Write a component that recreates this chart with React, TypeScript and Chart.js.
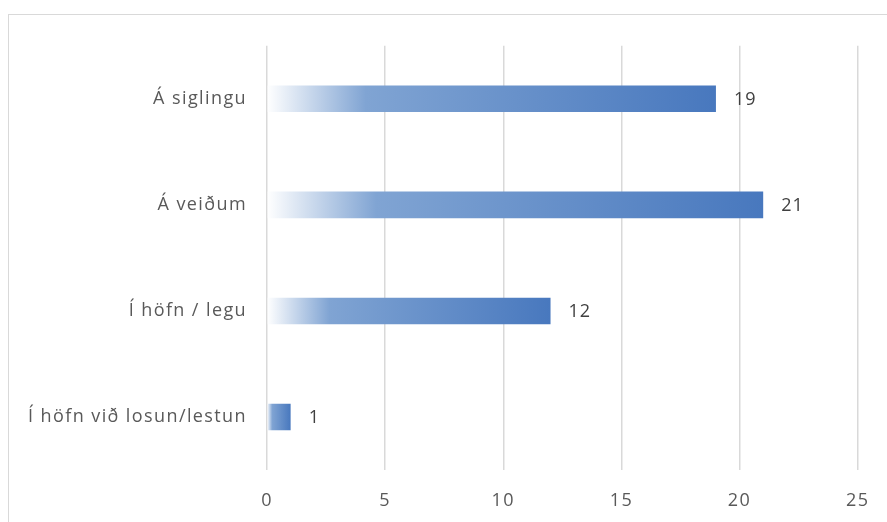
import React, { useEffect, useRef } from "react";
import { Chart, registerables } from "chart.js";

Chart.register(...registerables);

const categories = ["Á siglingu", "Á veiðum", "Í höfn / legu", "Í höfn við losun/lestun"];
const values = [19, 21, 12, 1];
const xTicks = [0, 5, 10, 15, 20, 25];

const FONT = "'Open Sans', 'DejaVu Sans', sans-serif";

export default function App() {
  const ref = useRef<HTMLCanvasElement | null>(null);

  useEffect(() => {
    if (!ref.current) return;
    const spacing = {
      id: "spacing",
      beforeDraw(chart: any) {
        (chart.ctx as any).letterSpacing = "1.4px";
      },
      afterDraw(chart: any) {
        (chart.ctx as any).letterSpacing = "0px";
      },
    };
    const valueLabels = {
      id: "valueLabels",
      afterDatasetsDraw(chart: any) {
        const c = chart.ctx;
        const meta = chart.getDatasetMeta(0);
        c.save();
        (c as any).letterSpacing = "1px";
        c.font = `18px ${FONT}`;
        c.fillStyle = "#404040";
        c.textAlign = "left";
        c.textBaseline = "middle";
        meta.data.forEach((bar: any, i: number) => {
          c.fillText(String(values[i]), bar.x + 18, bar.y + 1);
        });
        c.restore();
      },
    };
    const chart = new Chart(ref.current, {
      type: "bar",
      data: {
        labels: categories,
        datasets: [
          {
            data: values,
            backgroundColor: (ctx: any) => {
              const ch = ctx.chart;
              if (!ch.chartArea || ctx.raw === undefined) return "#4878be";
              const xs = ch.scales.x;
              const x0 = xs.getPixelForValue(0);
              const x1 = xs.getPixelForValue(ctx.raw as number);
              if (x1 - x0 < 1) return "#4878be";
              const g = ch.ctx.createLinearGradient(x0, 0, x1, 0);
              g.addColorStop(0, "#ffffff");
              g.addColorStop(0.22, "#80a4d3");
              g.addColorStop(1, "#4878be");
              return g;
            },
            borderWidth: 0,
            barPercentage: 0.25,
            categoryPercentage: 1,
          },
        ],
      },
      options: {
        indexAxis: "y",
        animation: false,
        responsive: false,
        maintainAspectRatio: false,
        layout: { padding: { top: 29, right: 27, left: 0, bottom: 0 } },
        plugins: {
          legend: { display: false },
          tooltip: { enabled: false },
          title: { display: false },
        },
        scales: {
          x: {
            min: 0,
            max: 25,
            afterBuildTicks: (axis: any) => {
              axis.ticks = xTicks.map((v) => ({ value: v }));
            },
            afterFit: (axis: any) => {
              axis.height = 53;
            },
            grid: {
              color: "#d9d9d9",
              lineWidth: 1.5,
              drawTicks: false,
            },
            border: { display: false },
            ticks: {
              color: "#595959",
              font: { family: FONT, size: 18 },
              padding: 20,
            },
          },
          y: {
            afterFit: (axis: any) => {
              axis.width = 258;
            },
            grid: { display: false, drawTicks: false },
            border: { display: false },
            ticks: {
              color: "#595959",
              font: { family: FONT, size: 18 },
              padding: 20,
            },
          },
        },
      },
      plugins: [spacing, valueLabels],
    });
    return () => chart.destroy();
  }, []);

  return (
    <div
      style={{
        position: "absolute",
        left: 8,
        top: 14,
        width: 900,
        height: 520,
        borderTop: "1px solid #d9d9d9",
        borderLeft: "1px solid #d9d9d9",
        background: "#ffffff",
      }}
    >
      <canvas ref={ref} width={879} height={508} style={{ display: "block", width: 879, height: 508 }} />
    </div>
  );
}
